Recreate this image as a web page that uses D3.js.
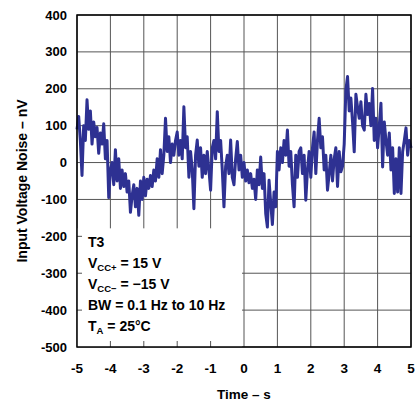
<!DOCTYPE html>
<html>
<head>
<meta charset="utf-8">
<script src="https://cdn.jsdelivr.net/npm/d3@7"></script>
<style>
  body { margin: 0; background: #fff; }
  text { font-family: "Liberation Sans", Arial, sans-serif; font-weight: bold; fill: #000; }
</style>
</head>
<body>
<svg id="chart"></svg>
<script>
// time axis, seconds (0.05 s steps from -5 to 5)
const timeStart = -5
const timeStep = 0.05
// input voltage noise, nV
const noise = [
  90, 125, 60, -35, 100, 60, 170, 90, 140, 50, 110, 70, 95, 25, 80, 50, 105, 10, 60, -95, -20,
  0, -60, 35, -50, 10, -70, -20, -65, -30, -80, -50, -135, -90, -60, -120, -70, -143, -50, -100, -40,
  -90, -45, -70, -35, -65, -20, -50, 10, -40, 35, -30, 20, 120, 30, 70, 0, 50, 20, 60, 83,
  20, 60, 10, 151, 40, 70, -40, 30, -20, -125, 20, 61, -10, 40, -40, 20, -30, 30, -20, -75,
  40, 60, 10, 138, 30, 60, -20, -120, -10, 20, -30, 61, -40, -60, 10, 57, -20, 20, -40, 0,
  -50, -20, -55, -30, -70, -45, -100, -20, -60, 15, -70, -30, -138, -175, -48, -110, -168, -80, -120, 30,
  -20, 40, 0, 60, 20, 88, -10, 30, -60, -120, 20, -40, 30, 40, -30, 20, -102, -20, 30, -40,
  40, 83, -30, 60, 120, 40, 70, -20, 20, -75, -30, 20, -50, 10, 40, -65, 30, -25, -10, 50,
  196, 233, 140, 175, 110, 29, 185, 150, 120, 165, 100, 88, 185, 130, 160, 100, 201, 60, 120, 40,
  100, 161, -12, 110, 60, 20, 80, -20, 40, -84, 10, -80, 40, -84, 30, 60, 94, 20, 60, 40
]
const xTicks = [-5, -4, -3, -2, -1, 0, 1, 2, 3, 4, 5]
const yTicks = [400, 300, 200, 100, 0, -100, -200, -300, -400, -500]
const notes = [
  ['T3'],
  ['V', 'CC+', ' = 15 V'],
  ['V', 'CC\u2212', ' = \u221215 V'],
  ['BW = 0.1 Hz to 10 Hz'],
  ['T', 'A', ' = 25\u00b0C']
]

const W = 417, H = 407
const margin = { top: 15, right: 6, bottom: 60, left: 77 }
const width = W - margin.left - margin.right
const height = H - margin.top - margin.bottom

const svg = d3.select('#chart').attr('width', W).attr('height', H)
const g = svg.append('g').attr('transform', `translate(${margin.left},${margin.top})`)

const x = d3.scaleLinear().domain([-5, 5]).range([0, width])
const y = d3.scaleLinear().domain([-500, 400]).range([height, 0])

// grid
g.append('g').selectAll('line').data(xTicks).join('line')
  .attr('x1', d => x(d)).attr('x2', d => x(d))
  .attr('y1', 0).attr('y2', height)
  .attr('stroke', '#555').attr('stroke-width', 1)
g.append('g').selectAll('line').data(yTicks).join('line')
  .attr('x1', 0).attr('x2', width)
  .attr('y1', d => y(d)).attr('y2', d => y(d))
  .attr('stroke', '#555').attr('stroke-width', 1)

// trace
const line = d3.line()
  .x((d, i) => x(timeStart + i * timeStep))
  .y(d => y(d))
g.append('path')
  .datum(noise)
  .attr('fill', 'none')
  .attr('stroke', '#2e3192')
  .attr('stroke-width', 3)
  .attr('stroke-linejoin', 'round')
  .attr('d', line)

// white box for conditions
const boxRight = x(0) - 2
const boxTop = y(-200) - 8
g.append('rect')
  .attr('x', 0).attr('y', boxTop)
  .attr('width', boxRight).attr('height', height - boxTop)
  .attr('fill', '#fff')

// small inner ticks where the box hides the grid
g.append('g').selectAll('line').data(yTicks.filter(d => d <= -200 && d > -500)).join('line')
  .attr('x1', 0).attr('x2', 5)
  .attr('y1', d => y(d)).attr('y2', d => y(d))
  .attr('stroke', '#555')
g.append('g').selectAll('line').data(xTicks.filter(d => d > -5 && d < 0)).join('line')
  .attr('x1', d => x(d)).attr('x2', d => x(d))
  .attr('y1', height).attr('y2', height - 6)
  .attr('stroke', '#555')

// frame
g.append('rect')
  .attr('width', width).attr('height', height)
  .attr('fill', 'none').attr('stroke', '#000').attr('stroke-width', 1.5)

// condition text
const noteText = g.append('g').selectAll('text').data(notes).join('text')
  .attr('x', 11)
  .attr('y', (d, i) => boxTop + 19 + i * 21)
  .attr('font-size', 14)
noteText.each(function (d) {
  const t = d3.select(this)
  d.forEach((s, k) => {
    const sp = t.append('tspan').text(s)
    if (k === 1) sp.attr('font-size', 9.5).attr('dy', 3)
    if (k === 2) sp.attr('dy', -3)
  })
})

// tick labels
svg.append('g').selectAll('text').data(yTicks).join('text')
  .attr('x', 67)
  .attr('y', d => margin.top + y(d))
  .attr('dy', '0.35em')
  .attr('text-anchor', 'end')
  .attr('font-size', 13)
  .text(d => d)
svg.append('g').selectAll('text').data(xTicks).join('text')
  .attr('x', d => margin.left + x(d))
  .attr('y', 373)
  .attr('text-anchor', 'middle')
  .attr('font-size', 13.5)
  .text(d => d)

// axis titles
svg.append('text')
  .attr('x', margin.left + x(0)).attr('y', 399)
  .attr('text-anchor', 'middle').attr('font-size', 13.5)
  .text('Time \u2013 s')
svg.append('text')
  .attr('transform', `translate(27,${margin.top + height / 2}) rotate(-90)`)
  .attr('text-anchor', 'middle').attr('font-size', 14)
  .text('Input Voltage Noise \u2013 nV')
</script>
</body>
</html>
